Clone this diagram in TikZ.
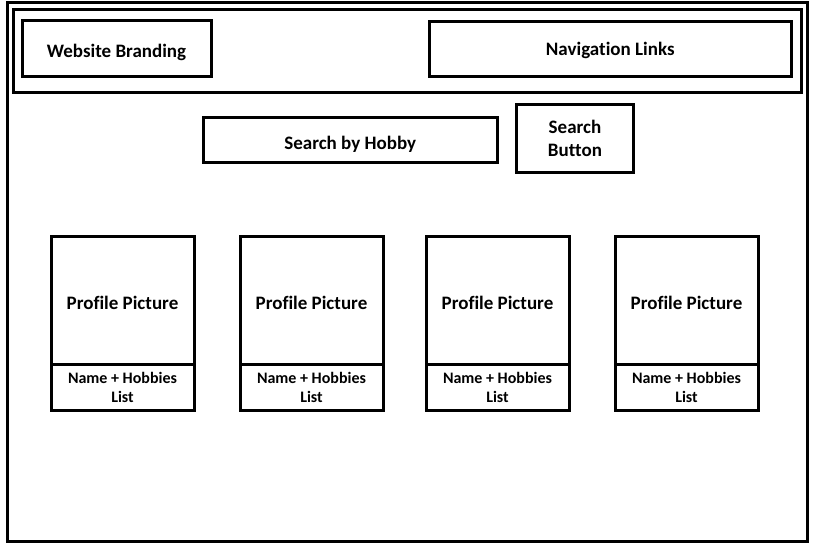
\documentclass[tikz,border=0pt]{standalone}
\usepackage{fontspec}
\setmainfont{Carlito}[Ligatures=NoCommon]
\usetikzlibrary{positioning}

\begin{document}
\begin{tikzpicture}[x=1pt,y=-1pt,line width=3pt,
	box/.style={draw,rectangle,inner sep=0pt,outer sep=0pt,align=center,text depth=0pt,
		font=\fontsize{19}{23}\selectfont\bfseries},
	one line/.style={text height=19pt},
	pic node/.style={box,one line,minimum width=143pt,minimum height=128pt},
	info node/.style={box,minimum width=143pt,minimum height=46pt,
		font=\fontsize{16}{19}\selectfont\bfseries}]
	
	\useasboundingbox (0,0) rectangle (813,551);
	
	\node[box,minimum width=800pt,minimum height=538pt] (page) at (407,272) {};
	\node[box,minimum width=788.5pt,minimum height=82pt] (header) at (407.25,51) {};
	\node[box,one line,minimum width=189pt,minimum height=55pt] (brand) at (116.5,48.5) {Website Branding};
	\node[box,minimum width=362.5pt,minimum height=54pt] (nav) at (610.25,49) {Navigation Links};
	\node[box,one line,minimum width=294.5pt,minimum height=45pt] (search) at (350.25,139.5) {Search by Hobby};
	\node[box,minimum width=117pt,minimum height=68pt] (button) at (575,138.5) {Search\\Button};
	
	\node[pic node] (pic1) at (122.5,300) {Profile Picture};
	\node[pic node] (pic2) at (311.5,300) {Profile Picture};
	\node[pic node] (pic3) at (497.5,300) {Profile Picture};
	\node[pic node] (pic4) at (686.5,300) {Profile Picture};
	
	\node[info node,below=0pt of pic1] (info1) {Name + Hobbies\\List};
	\node[info node,below=0pt of pic2] (info2) {Name + Hobbies\\List};
	\node[info node,below=0pt of pic3] (info3) {Name + Hobbies\\List};
	\node[info node,below=0pt of pic4] (info4) {Name + Hobbies\\List};
	
\end{tikzpicture}
\end{document}
